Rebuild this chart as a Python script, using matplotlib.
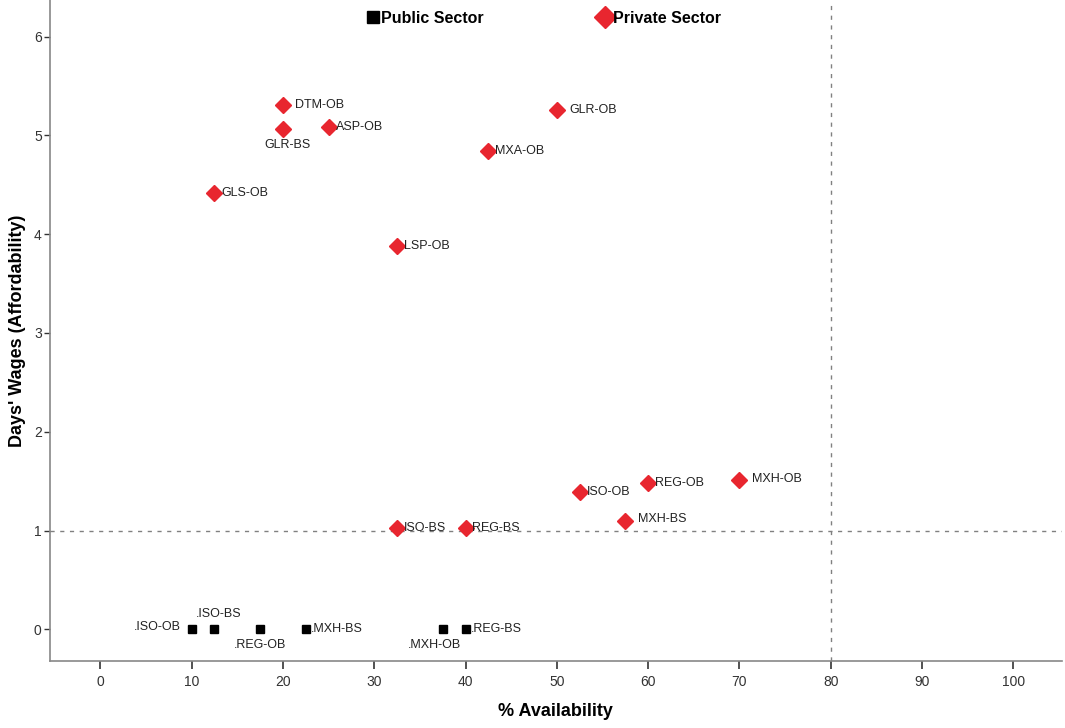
import matplotlib
matplotlib.use('Agg')
import matplotlib.pyplot as plt
from matplotlib.lines import Line2D

plt.rcParams['font.family'] = ['Liberation Sans', 'DejaVu Sans']

# private sector (red diamonds)
priv_labels = ['DTM-OB', 'GLR-BS', 'ASP-OB', 'GLR-OB', 'MXA-OB', 'GLS-OB', 'LSP-OB',
               'ISO-OB', 'REG-OB', 'MXH-OB', 'MXH-BS', 'ISO-BS', 'REG-BS']
priv_x = [20, 20, 25, 50, 42.5, 12.5, 32.5, 52.5, 60, 70, 57.5, 32.5, 40]
priv_y = [5.31, 5.06, 5.08, 5.26, 4.84, 4.42, 3.88, 1.39, 1.48, 1.51, 1.10, 1.03, 1.03]

# public sector (black squares)
pub_labels = ['.ISO-OB', '.ISO-BS', '.REG-OB', '.MXH-BS', '.MXH-OB', '.REG-BS']
pub_x = [10, 12.5, 17.5, 22.5, 37.5, 40]
pub_y = [0, 0, 0, 0, 0, 0]

red = '#e8262f'

fig = plt.figure(figsize=(10.65, 7.28), dpi=100)
ax = fig.add_axes([0.047, 0.092, 0.95, 0.908])

ax.axhline(1, color='#808080', lw=1, ls=(0, (3, 4)), zorder=1)
ax.axvline(80, color='#808080', lw=1, ls=(0, (3, 4)), zorder=1)

ax.plot(priv_x, priv_y, 'D', color=red, ms=8, ls='none', zorder=3)
ax.plot(pub_x, pub_y, 's', color='black', ms=6, ls='none', zorder=3)

# label offsets in points (dx, dy, ha)
priv_off = {'DTM-OB': (9, 0, 'left'), 'GLR-BS': (3, -11, 'center'),
            'GLR-OB': (9, 0, 'left'), 'MXH-OB': (9, 1, 'left'),
            'MXH-BS': (9, 1, 'left')}
for lab, x, y in zip(priv_labels, priv_x, priv_y):
    dx, dy, ha = priv_off.get(lab, (5, 0, 'left'))
    ax.annotate(lab, (x, y), xytext=(dx, dy), textcoords='offset points',
                ha=ha, va='center', fontsize=9, color='#222222', zorder=4)

pub_off = {'.ISO-OB': (-8, 2, 'right'), '.ISO-BS': (3, 11, 'center'),
           '.REG-OB': (0, -11, 'center'), '.MXH-BS': (4, 0, 'left'),
           '.MXH-OB': (-6, -11, 'center'), '.REG-BS': (4, 0, 'left')}
for lab, x, y in zip(pub_labels, pub_x, pub_y):
    dx, dy, ha = pub_off[lab]
    ax.annotate(lab, (x, y), xytext=(dx, dy), textcoords='offset points',
                ha=ha, va='center', fontsize=9, color='#222222', zorder=4)

ax.set_xlim(-5.5, 105.3)
ax.set_ylim(-0.32, 6.37)
ax.set_xticks(range(0, 101, 10))
ax.set_yticks(range(0, 7))
ax.tick_params(axis='both', direction='out', labelsize=10, colors='#333333')
ax.tick_params(axis='x', length=6, width=1.2, pad=4)
ax.tick_params(axis='y', length=4, width=1, pad=2)
for side in ['top', 'right']:
    ax.spines[side].set_visible(False)
for side in ['left', 'bottom']:
    ax.spines[side].set_color('#888888')
    ax.spines[side].set_linewidth(1.2)

ax.set_xlabel('% Availability', fontsize=13, fontweight='bold', labelpad=10)
ax.set_ylabel("Days' Wages (Affordability)", fontsize=13, fontweight='bold', labelpad=6)

handles = [Line2D([], [], marker='s', color='black', ls='none', ms=9),
           Line2D([], [], marker='D', color=red, ls='none', ms=11)]
ax.legend(handles, ['Public Sector', 'Private Sector'], ncol=2, frameon=False,
          loc='center', bbox_to_anchor=(0.488, 0.972), handlelength=0.8,
          handletextpad=0.1, columnspacing=7.2,
          prop={'weight': 'bold', 'size': 11.5})

fig.savefig('out.png', dpi=100)
